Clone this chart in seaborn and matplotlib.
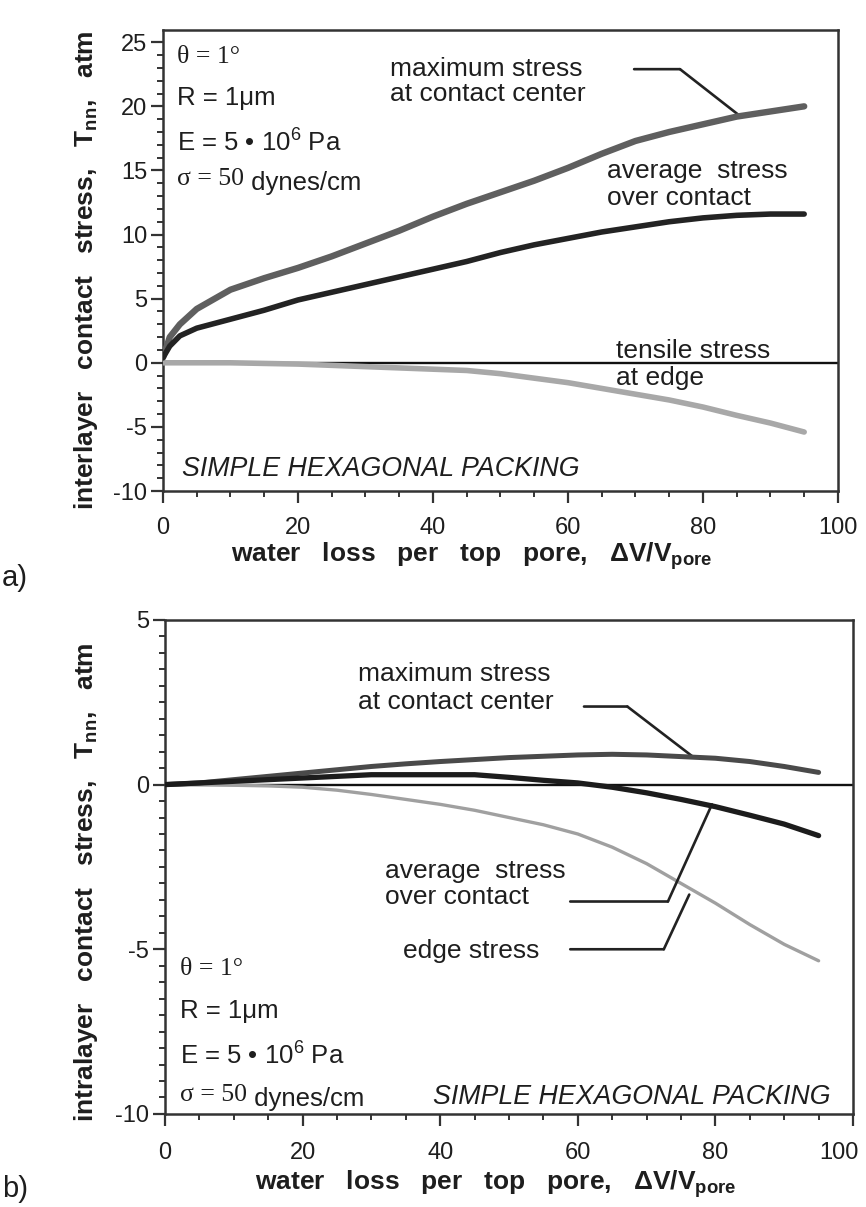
import matplotlib
matplotlib.use("Agg")
import matplotlib.pyplot as plt
import matplotlib.transforms as mtransforms
import seaborn as sns
import pandas as pd
from matplotlib.ticker import MultipleLocator

# ---------------- data ----------------
# panel a) interlayer contact stress
xa = [0, 1, 2.5, 5, 10, 15, 20, 25, 30, 35, 40, 45, 50, 55, 60, 65, 70, 75, 80, 85, 90, 95]
max_a = [0.4, 2.0, 3.0, 4.2, 5.7, 6.6, 7.4, 8.3, 9.3, 10.3, 11.4, 12.4, 13.3, 14.2, 15.2,
         16.3, 17.3, 18.0, 18.6, 19.2, 19.6, 20.0]
avg_a = [0.4, 1.3, 2.1, 2.7, 3.4, 4.1, 4.9, 5.5, 6.1, 6.7, 7.3, 7.9, 8.6, 9.2, 9.7,
         10.2, 10.6, 11.0, 11.3, 11.5, 11.6, 11.6]
xa_edge = [0, 10, 20, 25, 30, 35, 40, 45, 50, 55, 60, 65, 70, 75, 80, 85, 90, 95]
edge_a = [0.0, 0.0, -0.1, -0.2, -0.3, -0.4, -0.5, -0.6, -0.85, -1.2, -1.55, -2.0,
          -2.45, -2.9, -3.45, -4.1, -4.7, -5.4]

# panel b) intralayer contact stress
xb = [0, 5, 10, 15, 20, 25, 30, 35, 40, 45, 50, 55, 60, 65, 70, 75, 80, 85, 90, 95]
max_b = [0.0, 0.05, 0.15, 0.25, 0.35, 0.45, 0.55, 0.63, 0.7, 0.76, 0.82, 0.86, 0.9,
         0.92, 0.9, 0.85, 0.8, 0.7, 0.55, 0.37]
avg_b = [0.0, 0.05, 0.1, 0.15, 0.2, 0.25, 0.3, 0.3, 0.3, 0.3, 0.22, 0.13, 0.05,
         -0.08, -0.25, -0.45, -0.67, -0.93, -1.2, -1.55]
edge_b = [0.0, 0.0, -0.02, -0.04, -0.08, -0.17, -0.3, -0.45, -0.6, -0.78, -1.0, -1.22,
          -1.5, -1.9, -2.4, -3.0, -3.6, -4.25, -4.85, -5.35]

# axis ticks
xticks = [0, 20, 40, 60, 80, 100]
yticks_a = [-10, -5, 0, 5, 10, 15, 20, 25]
yticks_b = [-10, -5, 0, 5]

# labels / annotations
ylabel_a = r"interlayer   contact   stress,   T$_{\mathbf{nn}}$,   atm"
ylabel_b = r"intralayer   contact   stress,   T$_{\mathbf{nn}}$,   atm"
xlabel = r"water   loss   per   top   pore,   ΔV/V$_{\mathbf{pore}}$"
packing = "SIMPLE HEXAGONAL PACKING"

labels_a = [("maximum stress", 33.6, 22.4), ("at contact center", 33.6, 20.4),
            ("average  stress", 65.8, 14.4), ("over contact", 65.8, 12.3),
            ("tensile stress", 67.1, 0.35), ("at edge", 67.1, -1.75)]
leaders_a = [[(69.8, 22.9), (76.6, 22.9), (85.6, 19.2)]]
params_a = (2.1, [23.4, 20.1, 16.5, 13.9])
packing_a = (2.8, -8.8)

labels_b = [("maximum stress", 28.1, 3.16), ("at contact center", 28.1, 2.31),
            ("average  stress", 32.0, -2.83), ("over contact", 32.0, -3.62),
            ("edge stress", 34.6, -5.26)]
leaders_b = [[(60.9, 2.37), (67.2, 2.37), (76.7, 0.85)],
             [(58.9, -3.55), (73.1, -3.55), (79.5, -0.6)],
             [(58.9, -5.0), (72.5, -5.0), (76.2, -3.34)]]
params_b = (2.2, [-5.78, -7.1, -8.5, -9.6])
packing_b = (39.0, -9.7)

# ---------------- style ----------------
sns.set_theme(style="ticks")
plt.rcParams['font.family'] = ['Liberation Sans', 'DejaVu Sans']
plt.rcParams['mathtext.fontset'] = 'custom'
plt.rcParams['mathtext.rm'] = 'Liberation Sans'
plt.rcParams['mathtext.it'] = 'Liberation Sans:italic'
plt.rcParams['mathtext.bf'] = 'Liberation Sans:bold'
plt.rcParams['axes.unicode_minus'] = False

INK = '#1e1e1e'
TXT = 18.5
fig = plt.figure(figsize=(8.66, 12.07), dpi=100)
ax_a = fig.add_axes([0.1882, 0.5932, 0.7794, 0.3819])
ax_b = fig.add_axes([0.1905, 0.0771, 0.7945, 0.4093])

def style_axes(ax, ylim, yticks, yminor, xpad):
    ax.set_xlim(0, 100)
    ax.set_ylim(*ylim)
    ax.set_xticks(xticks)
    ax.set_yticks(yticks)
    ax.xaxis.set_minor_locator(MultipleLocator(5))
    ax.yaxis.set_minor_locator(MultipleLocator(yminor))
    for s in ax.spines.values():
        s.set_linewidth(1.8)
        s.set_color('#333333')
    ax.tick_params(which='major', direction='out', length=8.5, width=1.6,
                   color='#333333', labelsize=17, labelcolor=INK)
    ax.tick_params(which='minor', direction='out', length=4.5, width=1.4,
                   color='#333333')
    ax.tick_params(axis='x', which='major', pad=xpad)
    ax.tick_params(axis='y', which='major', pad=3)
    ax.axhline(0, color='#111111', lw=1.7, zorder=1)

def add_params(ax, x, ys):
    ax.text(x, ys[0], "θ = 1°", family='Liberation Serif', fontsize=TXT,
            color=INK, va='baseline')
    ax.text(x, ys[1], "R = 1μm", fontsize=TXT, color=INK, va='baseline')
    ax.text(x, ys[2], r"E = 5 • 10$^{6}$ Pa", fontsize=TXT, color=INK, va='baseline')
    t = ax.text(x, ys[3], "σ = 50", family='Liberation Serif', fontsize=TXT,
                color=INK, va='baseline')
    ax.annotate(" dynes/cm", xy=(1, 0), xycoords=t, fontsize=TXT, color=INK,
                va='baseline', ha='left')

def add_leaders(ax, leaders):
    for pts in leaders:
        for p0, p1 in zip(pts[:-1], pts[1:]):
            ax.annotate("", xy=p1, xytext=p0,
                        arrowprops=dict(arrowstyle='-', lw=1.9, color='#222222',
                                        shrinkA=0, shrinkB=0))

# ---------------- panel a ----------------
style_axes(ax_a, (-10, 25.95), yticks_a, 1, 10)
df_a = pd.DataFrame({'x': xa, 'max': max_a, 'avg': avg_a})
df_ae = pd.DataFrame({'x': xa_edge, 'edge': edge_a})
sns.lineplot(data=df_ae, x='x', y='edge', ax=ax_a, color='#a8a8a8', lw=4.0, zorder=3)
sns.lineplot(data=df_a, x='x', y='max', ax=ax_a, color='#5f5f5f', lw=4.6, zorder=4)
sns.lineplot(data=df_a, x='x', y='avg', ax=ax_a, color='#232323', lw=4.0, zorder=5)
for txt, x, y in labels_a:
    ax_a.text(x, y, txt, fontsize=19, color=INK, va='baseline')
add_leaders(ax_a, leaders_a)
add_params(ax_a, *params_a)
ax_a.text(*packing_a, packing, fontsize=19.3, style='italic', color=INK, va='baseline')

ax_a.set_xlabel(xlabel, fontsize=19, fontweight='bold', color=INK)
ax_a.set_ylabel(ylabel_a, fontsize=19, fontweight='bold', color=INK)
ax_a.xaxis.label.set_va('baseline')
ax_a.yaxis.label.set_va('baseline')
ax_a.xaxis.set_label_coords(0.458, -0.154)
ax_a.yaxis.set_label_coords(-0.104, 0.48)

# ---------------- panel b ----------------
style_axes(ax_b, (-10, 5), yticks_b, 0.5, 11.5)
df_b = pd.DataFrame({'x': xb, 'max': max_b, 'avg': avg_b, 'edge': edge_b})
sns.lineplot(data=df_b, x='x', y='edge', ax=ax_b, color='#a0a0a0', lw=2.4, zorder=3)
sns.lineplot(data=df_b, x='x', y='max', ax=ax_b, color='#4a4a4a', lw=3.6, zorder=4)
sns.lineplot(data=df_b, x='x', y='avg', ax=ax_b, color='#1c1c1c', lw=3.8, zorder=5)
for txt, x, y in labels_b:
    ax_b.text(x, y, txt, fontsize=19, color=INK, va='baseline')
add_leaders(ax_b, leaders_b)
add_params(ax_b, *params_b)
ax_b.text(*packing_b, packing, fontsize=19.3, style='italic', color=INK, va='baseline')

ax_b.set_xlabel(xlabel, fontsize=19, fontweight='bold', color=INK)
ax_b.set_ylabel(ylabel_b, fontsize=19, fontweight='bold', color=INK)
ax_b.xaxis.label.set_va('baseline')
ax_b.yaxis.label.set_va('baseline')
ax_b.xaxis.set_label_coords(0.48, -0.154)
ax_b.yaxis.set_label_coords(-0.105, 0.47)

# the last tick label of panel b sits a little left of its tick (as in the reference)
last = ax_b.get_xticklabels()[-1]
last.set_transform(last.get_transform() +
                   mtransforms.ScaledTranslation(-0.14, 0, fig.dpi_scale_trans))

fig.text(0.002, 1 - 586 / 1207, "a)", fontsize=21, color=INK, va='baseline')
fig.text(0.002, 1 - 1197 / 1207, "b)", fontsize=21, color=INK, va='baseline')

fig.savefig("out.png", dpi=100, facecolor='white')
